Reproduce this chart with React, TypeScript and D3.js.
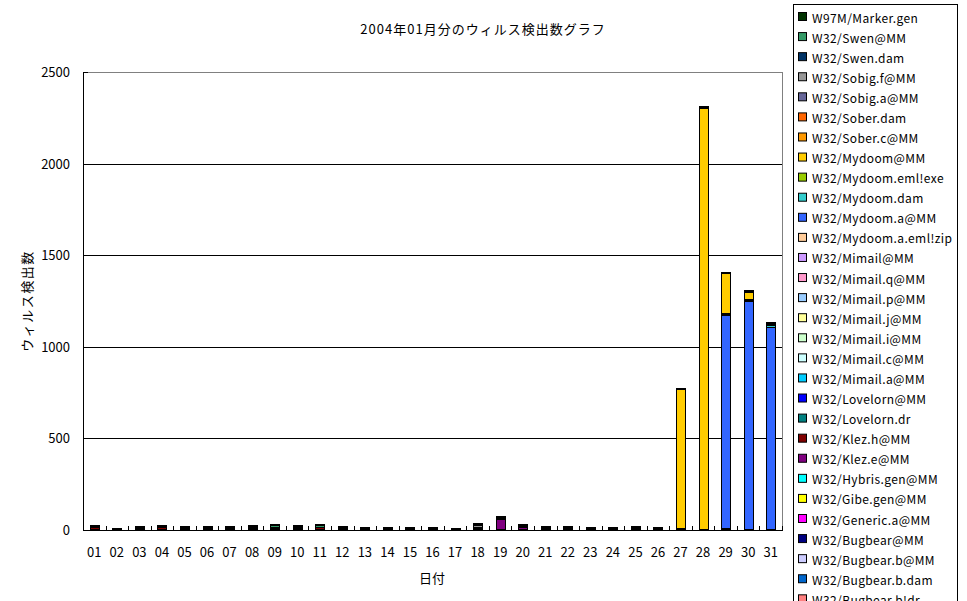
import React from 'react';
import * as d3 from 'd3';

const days = ['01','02','03','04','05','06','07','08','09','10','11','12','13','14','15','16','17','18','19','20','21','22','23','24','25','26','27','28','29','30','31'];

// series, bottom of stack first
const seriesNames = [
  'VBS/Redlof.a','W32/BadTrans@MM','W32/Bagle.a@MM','W32/Bagle.dll.dr','W32/Bagle@MM','W32/Bugbear.b!dr',
  'W32/Bugbear.b.dam','W32/Bugbear.b@MM','W32/Bugbear@MM','W32/Generic.a@MM','W32/Gibe.gen@MM','W32/Hybris.gen@MM',
  'W32/Klez.e@MM','W32/Klez.h@MM','W32/Lovelorn.dr','W32/Lovelorn@MM','W32/Mimail.a@MM','W32/Mimail.c@MM',
  'W32/Mimail.i@MM','W32/Mimail.j@MM','W32/Mimail.p@MM','W32/Mimail.q@MM','W32/Mimail@MM','W32/Mydoom.a.eml!zip',
  'W32/Mydoom.a@MM','W32/Mydoom.dam','W32/Mydoom.eml!exe','W32/Mydoom@MM','W32/Sober.c@MM','W32/Sober.dam',
  'W32/Sobig.a@MM','W32/Sobig.f@MM','W32/Swen.dam','W32/Swen@MM','W97M/Marker.gen'
];
const seriesColors = [
  '#9999FF','#993366','#FFFFCC','#CCFFFF','#660066','#FF8080',
  '#0066CC','#CCCCFF','#000080','#FF00FF','#FFFF00','#00FFFF',
  '#800080','#800000','#008080','#0000FF','#00CCFF','#CCFFFF',
  '#CCFFCC','#FFFF99','#99CCFF','#FF99CC','#CC99FF','#FFCC99',
  '#3366FF','#33CCCC','#99CC00','#FFCC00','#FF9900','#FF6600',
  '#666699','#969696','#003366','#339966','#003300'
];

const zeros = days.map(() => 0);
const bugbearB   = [3,2,3,3,3,2,2,3,3,4,3,2,2,2,2,2,0,4,3,3,3,3,2,2,3,2,2,2,2,2,2];
const klezE      = [2,0,2,2,2,0,0,2,3,3,2,0,0,0,0,0,0,3,55,12,2,2,0,0,2,0,2,0,2,0,0];
const klezH      = [8,2,3,8,3,8,8,3,3,4,8,8,3,3,3,3,2,4,3,3,3,3,3,3,3,3,3,3,3,3,3];
const lovelornDr = [2,0,0,2,0,0,0,0,2,2,0,0,0,0,0,0,0,2,0,0,0,0,0,0,0,0,0,0,0,0,0];
const mimailA    = [2,0,0,0,0,0,0,0,0,0,0,0,0,0,0,0,0,0,0,0,0,0,0,0,0,0,0,0,0,0,0];
const mydoomA    = [0,0,0,0,0,0,0,0,0,0,0,0,0,0,0,0,0,0,0,0,0,0,0,0,0,0,0,0,1165,1241,1103];
const mydoomDam  = [0,0,0,0,0,0,0,0,0,0,0,0,0,0,0,0,0,0,0,0,0,0,0,0,0,0,0,0,6,5,6];
const mydoomEml  = [0,0,0,0,0,0,0,0,0,0,0,0,0,0,0,0,0,0,0,0,0,0,0,0,0,0,0,0,6,5,5];
const mydoomMM   = [0,0,0,0,0,0,0,0,0,0,0,0,0,0,0,0,0,0,0,0,0,0,0,0,0,0,760,2295,215,40,6];
const soberC     = [0,0,0,0,0,0,0,0,0,0,0,0,0,0,0,0,0,0,0,0,0,0,0,0,0,0,0,0,0,4,0];
const sobigF     = [3,2,3,3,3,2,2,3,3,4,3,2,2,2,2,2,2,12,3,3,3,3,2,2,3,2,2,2,2,4,3];
const swenMM     = [3,2,4,4,4,4,4,10,13,5,11,4,4,4,4,4,2,5,5,5,4,4,4,4,4,4,3,4,3,3,3];
const w97m       = [2,2,3,3,3,2,2,2,3,3,3,2,2,2,2,2,2,5,4,4,3,3,2,2,3,2,3,3,3,3,3];

const seriesData: number[][] = [
  zeros, zeros, zeros, zeros, zeros, zeros,
  zeros, bugbearB, zeros, zeros, zeros, zeros,
  klezE, klezH, lovelornDr, zeros, mimailA, zeros,
  zeros, zeros, zeros, zeros, zeros, zeros,
  mydoomA, mydoomDam, mydoomEml, mydoomMM, soberC, zeros,
  zeros, sobigF, zeros, swenMM, w97m
];

const yTicks = [0, 500, 1000, 1500, 2000, 2500];
const title = '2004年01月分のウィルス検出数グラフ';
const xTitle = '日付';
const yTitle = 'ウィルス検出数';

const FONT = "'Noto Sans CJK JP', 'Noto Sans', sans-serif";

export default function App() {
  const W = 967, H = 601;
  const left = 83, right = 782, top = 72, bottom = 530;

  const table = days.map((d, i) => {
    const row: Record<string, number | string> = { day: d };
    seriesNames.forEach((n, k) => { row[n] = seriesData[k][i]; });
    return row;
  });
  const stacked = d3.stack<any>().keys(seriesNames)(table as any);

  const x = d3.scaleBand<string>().domain(days).range([left, right]).padding(0);
  const y = d3.scaleLinear().domain([0, 2500]).range([bottom, top]);
  const barW = 9;

  const legendItems = seriesNames.map((n, k) => ({ name: n, color: seriesColors[k] })).reverse();

  return (
    <svg width={W} height={H} style={{ position: 'absolute', left: 0, top: 0, background: '#fff' }}
      fontFamily={FONT}>
      <rect x={0} y={0} width={W} height={H} fill="#fff" />
      <text x={483} y={34} textAnchor="middle" fontSize={13} letterSpacing={1}>{title}</text>

      {/* gridlines */}
      {yTicks.filter(t => t > 0 && t < 2500).map(t => (
        <line key={t} x1={left} x2={right} y1={Math.round(y(t)) + 0.5} y2={Math.round(y(t)) + 0.5}
          stroke="#000" strokeWidth={1} />
      ))}
      {/* plot border top/right */}
      <line x1={left} x2={right + 0.5} y1={top + 0.5} y2={top + 0.5} stroke="#808080" />
      <line x1={right + 0.5} x2={right + 0.5} y1={top} y2={bottom} stroke="#808080" />

      {/* bars */}
      <g shapeRendering="crispEdges">
        {stacked.map((layer, k) => (
          <g key={k} fill={seriesColors[k]}>
            {layer.map((d, i) => {
              if (d[1] - d[0] <= 0) return null;
              const cx = (x(days[i]) as number) + x.bandwidth() / 2;
              const y0 = y(d[1]);
              const y1 = y(d[0]);
              return (
                <rect key={i} x={Math.round(cx - barW / 2) + 0.5} y={y0} width={barW}
                  height={Math.max(0, y1 - y0)} stroke="#000" strokeWidth={1} />
              );
            })}
          </g>
        ))}
      </g>

      {/* axes */}
      <line x1={left + 0.5} x2={left + 0.5} y1={top} y2={bottom + 1} stroke="#000" />
      <line x1={left} x2={right + 1} y1={bottom + 0.5} y2={bottom + 0.5} stroke="#000" />
      <line x1={left} x2={left + 5} y1={top + 0.5} y2={top + 0.5} stroke="#000" />
      {days.map((d, i) => {
        const xx = Math.round((x(d) as number) + x.bandwidth()) + 0.5;
        return <line key={d} x1={xx} x2={xx} y1={bottom - 4} y2={bottom} stroke="#000" />;
      })}

      {yTicks.map(t => (
        <text key={t} x={70} y={y(t) + 5} textAnchor="end" fontSize={13}>{t}</text>
      ))}
      {days.map(d => (
        <text key={d} x={(x(d) as number) + x.bandwidth() / 2} y={557} textAnchor="middle" fontSize={13}>{d}</text>
      ))}
      <text x={432} y={583} textAnchor="middle" fontSize={13}>{xTitle}</text>
      <text transform={`translate(32, ${(top + bottom) / 2}) rotate(-90)`} textAnchor="middle" fontSize={13}
        letterSpacing={1.5}>{yTitle}</text>

      {/* legend */}
      <rect x={793.5} y={4.5} width={164} height={700} fill="#fff" stroke="#000" />
      {legendItems.map((it, i) => (
        <g key={it.name} transform={`translate(0, ${20.08 * i})`}>
          <rect x={798.5} y={12.5} width={8} height={8} fill={it.color} stroke="#000" />
          <text x={812} y={22.5} fontSize={12} letterSpacing={0.4}>{it.name}</text>
        </g>
      ))}
    </svg>
  );
}
